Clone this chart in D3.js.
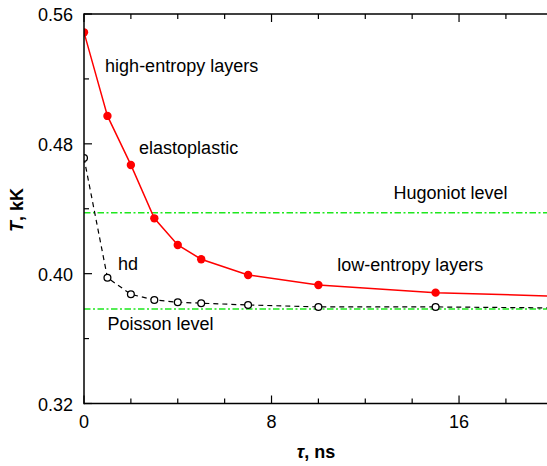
<!DOCTYPE html>
<html>
<head>
<meta charset="utf-8">
<script src="https://cdn.jsdelivr.net/npm/d3@7/dist/d3.min.js"></script>
<style>
html,body{margin:0;padding:0;background:#fff;}
svg{display:block;font-family:"Liberation Sans",Arial,sans-serif;}
</style>
</head>
<body>
<svg id="chart" width="547" height="466"></svg>
<script>
// ---- data ----
const times = [0, 1, 2, 3, 4, 5, 7, 10, 15];
const elastoplasticT = [0.5487, 0.4972, 0.4670, 0.4341, 0.4177, 0.4089, 0.3992, 0.3930, 0.3883];
const hdT = [0.4713, 0.3975, 0.3873, 0.3838, 0.3824, 0.3818, 0.3807, 0.3795, 0.3795];
const lineEndTime = 20;
const elastoplasticEndT = 0.3862;
const hdEndT = 0.3789;
const hugoniotLevel = 0.4376;
const poissonLevel = 0.3782;
const xMajorTicks = [0, 8, 16];
const xMinorTicks = [2, 4, 6, 10, 12, 14, 18];
const yMajorTicks = [0.32, 0.40, 0.48, 0.56];
const yMinorTicks = [0.36, 0.44, 0.52];
const annotations = [
  {text: "high-entropy layers", t: 0.9, T: 0.524},
  {text: "elastoplastic", t: 2.35, T: 0.4738},
  {text: "Hugoniot level", t: 13.2, T: 0.4457},
  {text: "low-entropy layers", t: 10.8, T: 0.4014},
  {text: "hd", t: 1.45, T: 0.4020},
  {text: "Poisson level", t: 1.0, T: 0.3650}
];

(function () {
// ---- layout ----
const svg = d3.select("#chart");
const pLeft = 84, pRight = 552.8, pTop = 14, pBottom = 403.5;
const x = d3.scaleLinear().domain([0, 20]).range([pLeft, pRight]);
const y = d3.scaleLinear().domain([0.32, 0.56]).range([pBottom, pTop]);

svg.append("defs").append("clipPath").attr("id", "plotclip")
  .append("rect").attr("x", pLeft).attr("y", pTop).attr("width", pRight - pLeft).attr("height", pBottom - pTop);

const plot = svg.append("g").attr("clip-path", "url(#plotclip)");

// reference levels
[hugoniotLevel, poissonLevel].forEach(v => {
  plot.append("line")
    .attr("x1", x(0)).attr("x2", x(20))
    .attr("y1", y(v)).attr("y2", y(v))
    .attr("stroke", "#1ee81e").attr("stroke-width", 1.5)
    .attr("stroke-dasharray", "6.5,2.5,2,2.5");
});

const line = d3.line().x(d => x(d[0])).y(d => y(d[1]));
const elastoData = times.map((t, i) => [t, elastoplasticT[i]]).concat([[lineEndTime, elastoplasticEndT]]);
const hdData = times.map((t, i) => [t, hdT[i]]).concat([[lineEndTime, hdEndT]]);

plot.append("path").datum(hdData).attr("d", line)
  .attr("fill", "none").attr("stroke", "#000").attr("stroke-width", 1.2)
  .attr("stroke-dasharray", "5,4");

plot.append("path").datum(elastoData).attr("d", line)
  .attr("fill", "none").attr("stroke", "#ff0000").attr("stroke-width", 1.5);

plot.selectAll("circle.hd").data(times).enter().append("circle")
  .attr("cx", (d) => x(d)).attr("cy", (d, i) => y(hdT[i])).attr("r", 3.4)
  .attr("fill", "#fff").attr("stroke", "#000").attr("stroke-width", 1.3);

plot.selectAll("circle.ep").data(times).enter().append("circle")
  .attr("cx", (d) => x(d)).attr("cy", (d, i) => y(elastoplasticT[i])).attr("r", 4.2)
  .attr("fill", "#ff0000");

// axes frame
const ax = svg.append("g").attr("stroke", "#000").attr("stroke-width", 1.5).attr("fill", "none");
ax.append("line").attr("x1", pLeft).attr("x2", pLeft).attr("y1", pTop - 0.75).attr("y2", pBottom + 0.75);
ax.append("line").attr("x1", pLeft).attr("x2", pRight).attr("y1", pBottom).attr("y2", pBottom);
ax.append("line").attr("x1", pLeft).attr("x2", pRight).attr("y1", pTop).attr("y2", pTop);

// ticks (inward)
const tk = svg.append("g").attr("stroke", "#000").attr("stroke-width", 1.2);
xMajorTicks.forEach(t => {
  tk.append("line").attr("x1", x(t)).attr("x2", x(t)).attr("y1", pBottom).attr("y2", pBottom - 8);
  tk.append("line").attr("x1", x(t)).attr("x2", x(t)).attr("y1", pTop).attr("y2", pTop + 8);
});
xMinorTicks.forEach(t => {
  tk.append("line").attr("x1", x(t)).attr("x2", x(t)).attr("y1", pBottom).attr("y2", pBottom - 5);
  tk.append("line").attr("x1", x(t)).attr("x2", x(t)).attr("y1", pTop).attr("y2", pTop + 5);
});
yMajorTicks.forEach(v => {
  tk.append("line").attr("x1", pLeft).attr("x2", pLeft + 8).attr("y1", y(v)).attr("y2", y(v));
});
yMinorTicks.forEach(v => {
  tk.append("line").attr("x1", pLeft).attr("x2", pLeft + 5).attr("y1", y(v)).attr("y2", y(v));
});

// tick labels
svg.selectAll("text.xt").data(xMajorTicks).enter().append("text")
  .attr("x", d => x(d)).attr("y", 428).attr("text-anchor", "middle")
  .attr("font-size", 18).text(d => d);
svg.selectAll("text.yt").data(yMajorTicks).enter().append("text")
  .attr("x", 73).attr("y", d => y(d) + 7).attr("text-anchor", "end")
  .attr("font-size", 18).text(d => d.toFixed(2));

// axis titles
const xt = svg.append("text").attr("x", 316).attr("y", 458).attr("text-anchor", "middle")
  .attr("font-size", 18).attr("font-weight", "bold");
xt.append("tspan").attr("font-style", "italic").text("τ");
xt.append("tspan").text(", ns");

const yt = svg.append("text").attr("transform", "translate(23,210) rotate(-90)")
  .attr("text-anchor", "middle").attr("font-size", 18).attr("font-weight", "bold");
yt.append("tspan").attr("font-style", "italic").text("T");
yt.append("tspan").text(", kK");

// annotations
svg.selectAll("text.ann").data(annotations).enter().append("text")
  .attr("x", d => x(d.t)).attr("y", d => y(d.T))
  .attr("font-size", 18).text(d => d.text);
})();
</script>
</body>
</html>
